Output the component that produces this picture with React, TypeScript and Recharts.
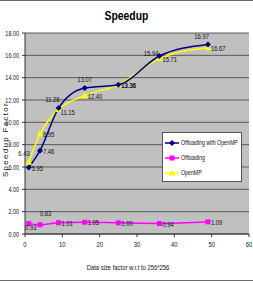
import React from 'react';
import {
  LineChart,
  Line,
  XAxis,
  YAxis,
  CartesianGrid,
  Label,
  LabelList,
} from 'recharts';

// x = data size factor relative to 256*256
const sizeFactors = [1, 4, 9, 16, 25, 36, 49];
const offloadingOpenMP = [5.95, 7.46, 11.28, 13.07, 13.36, 15.94, 16.97];
const offloading = [0.93, 0.83, 1.01, 1.05, 1.0, 0.94, 1.09];
const openMP = [6.43, 8.95, 11.15, 12.4, 13.36, 15.71, 16.67];

const yTicks = [0, 2, 4, 6, 8, 10, 12, 14, 16, 18];
const xTicks = [0, 10, 20, 30, 40, 50, 60];

const data = sizeFactors.map((x, i) => ({
  x,
  both: offloadingOpenMP[i],
  off: offloading[i],
  omp: openMP[i],
}));

const font = "'Liberation Sans', Arial, sans-serif";
const squeeze = 0.78; // condensed look for all small text
const navy = '#000080';
const magenta = '#ff00ff';
const yellow = '#ffff00';

// narrow svg text: draws at (x, y) and squeezes horizontally
const Narrow = ({ x, y, anchor = 'start', size = 7.5, children }: any) => (
  <text
    transform={`translate(${x},${y}) scale(${squeeze},1)`}
    textAnchor={anchor}
    fontSize={size}
    fontFamily={font}
    fill="#111"
  >
    {children}
  </text>
);

const XTick = ({ x, y, payload }: any) => (
  <Narrow x={x} y={y + 8} anchor="middle">
    {payload.value}
  </Narrow>
);

const YTick = ({ x, y, payload }: any) => (
  <Narrow x={x - 1} y={y + 2.5} anchor="end" size={7}>
    {Number(payload.value).toFixed(2)}
  </Narrow>
);

// where each value label sits relative to its point
type Place = 'right' | 'rightLow' | 'top' | 'topLeft' | 'left' | 'below' | 'topRight';
const bothPlaces: Place[] = ['right', 'right', 'topLeft', 'top', 'right', 'left', 'topLeft'];
const offPlaces: Place[] = ['below', 'topRight', 'right', 'right', 'right', 'right', 'right'];
const ompPlaces: Place[] = ['topLeft', 'right', 'rightLow', 'right', 'right', 'right', 'right'];

const placeStyle: Record<Place, { dx: number; dy: number; anchor: string }> = {
  right: { dx: 3, dy: 3, anchor: 'start' },
  rightLow: { dx: 2, dy: 6, anchor: 'start' },
  top: { dx: 0, dy: -6, anchor: 'middle' },
  topLeft: { dx: 1, dy: -6, anchor: 'end' },
  left: { dx: -1, dy: 0, anchor: 'end' },
  below: { dx: 2, dy: 6, anchor: 'middle' },
  topRight: { dx: 0, dy: -9, anchor: 'start' },
};

const makeLabel = (places: Place[]) => (props: any) => {
  const { x, y, value, index } = props;
  const p = placeStyle[places[index] || 'right'];
  return (
    <Narrow x={x + p.dx} y={y + p.dy} anchor={p.anchor}>
      {Number(value).toFixed(2)}
    </Narrow>
  );
};

const Diamond = ({ cx, cy }: any) =>
  cx == null ? null : (
    <polygon points={`${cx},${cy - 3} ${cx + 3},${cy} ${cx},${cy + 3} ${cx - 3},${cy}`} fill={navy} />
  );

const Square = ({ cx, cy }: any) =>
  cx == null ? null : <rect x={cx - 2.5} y={cy - 2.5} width={5} height={5} fill={magenta} />;

const Triangle = ({ cx, cy }: any) =>
  cx == null ? null : (
    <polygon points={`${cx},${cy - 3.5} ${cx + 3.5},${cy + 2.5} ${cx - 3.5},${cy + 2.5}`} fill={yellow} />
  );

const legendItems = [
  { name: 'Offloading with OpenMP', color: navy, Marker: Diamond },
  { name: 'Offloading', color: magenta, Marker: Square },
  { name: 'OpenMP', color: yellow, Marker: Triangle },
];

const LegendBox = () => (
  <div
    style={{
      position: 'absolute',
      left: 162,
      top: 132,
      width: 80,
      height: 50,
      background: '#fff',
      border: '1px solid #555',
      boxSizing: 'border-box',
      padding: '2px 0 0 2px',
    }}
  >
    {legendItems.map(({ name, color, Marker }) => (
      <div key={name} style={{ display: 'flex', alignItems: 'center', height: 15, whiteSpace: 'nowrap' }}>
        <svg width={14} height={10} style={{ flex: 'none' }}>
          <line x1={0} y1={5} x2={14} y2={5} stroke={color} strokeWidth={1.5} />
          <Marker cx={7} cy={5} />
        </svg>
        <span
          style={{
            fontFamily: font,
            fontSize: 7,
            marginLeft: 2,
            color: '#111',
            display: 'inline-block',
            transform: 'scaleX(0.75)',
            transformOrigin: 'left center',
          }}
        >
          {name}
        </span>
      </div>
    ))}
  </div>
);

const YTitle = ({ viewBox }: any) => {
  const cy = viewBox.y + viewBox.height / 2 + 6;
  return (
    <text
      transform={`translate(8,${cy}) rotate(-90)`}
      textAnchor="middle"
      fontSize={8}
      fontFamily={font}
      letterSpacing={1.3}
      fill="#111"
    >
      Speedup  Factor
    </text>
  );
};

export default function App() {
  return (
    <div
      style={{
        position: 'fixed',
        left: 0,
        top: 0,
        width: 253,
        height: 283,
        background: '#fff',
      }}
    >
      <div style={{ position: 'absolute', left: 0, top: 0, width: 253, height: 1, background: '#666' }} />
      <div style={{ position: 'absolute', left: 0, top: 280, width: 253, height: 1, background: '#666' }} />
      <div
        style={{
          position: 'absolute',
          left: 0,
          top: 6,
          width: 253,
          textAlign: 'center',
        }}
      >
        <span
          style={{
            display: 'inline-block',
            fontFamily: font,
            fontWeight: 'bold',
            fontSize: 13,
            transform: 'scaleX(0.8)',
          }}
        >
          Speedup
        </span>
      </div>
      <LineChart
        width={253}
        height={283}
        data={data}
        margin={{ top: 33, right: 4, bottom: 0, left: 0 }}
      >
        <CartesianGrid
          vertical={false}
          horizontal
          fill="#c0c0c0"
          fillOpacity={1}
          stroke="#5a5a5a"
          strokeWidth={1}
        />
        <XAxis
          dataKey="x"
          type="number"
          domain={[0, 60]}
          ticks={xTicks}
          height={49}
          stroke="#333"
          tickSize={3}
          tick={<XTick />}
          interval={0}
        >
          <Label
            content={({ viewBox }: any) => (
              <Narrow x={viewBox.x + viewBox.width / 2 - 9} y={viewBox.y + 36} anchor="middle">
                Data size factor w.r.t to 256*256
              </Narrow>
            )}
          />
        </XAxis>
        <YAxis
          type="number"
          domain={[0, 18]}
          ticks={yTicks}
          width={25}
          stroke="#333"
          tickSize={3}
          tick={<YTick />}
          interval={0}
        >
          <Label content={<YTitle />} />
        </YAxis>
        <Line
          type="monotone"
          dataKey="off"
          name="Offloading"
          stroke={magenta}
          strokeWidth={1.5}
          dot={<Square />}
          isAnimationActive={false}
        >
          <LabelList dataKey="off" content={makeLabel(offPlaces)} />
        </Line>
        <Line
          type="monotone"
          dataKey="omp"
          name="OpenMP"
          stroke={yellow}
          strokeWidth={1.5}
          dot={<Triangle />}
          isAnimationActive={false}
        >
          <LabelList dataKey="omp" content={makeLabel(ompPlaces)} />
        </Line>
        <Line
          type="monotone"
          dataKey="both"
          name="Offloading with OpenMP"
          stroke={navy}
          strokeWidth={1.5}
          dot={<Diamond />}
          isAnimationActive={false}
        >
          <LabelList dataKey="both" content={makeLabel(bothPlaces)} />
        </Line>
      </LineChart>
      <LegendBox />
    </div>
  );
}
